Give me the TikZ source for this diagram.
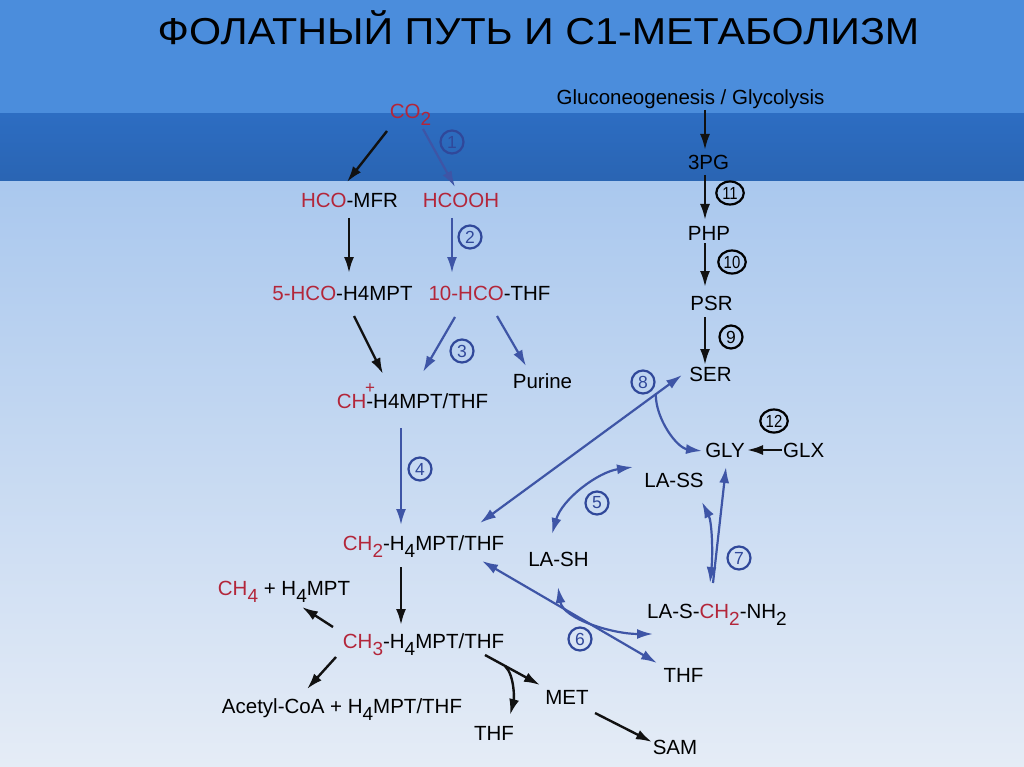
\documentclass[tikz,border=0pt]{standalone}
\usepackage{fontspec}
\setmainfont{Liberation Sans}
\usepackage{xcolor}
\usepackage{tikz}
\usetikzlibrary{arrows.meta,positioning,calc,shapes.geometric}
\definecolor{fpred}{HTML}{B3263A}
\definecolor{fpblue}{HTML}{3E55A6}
\definecolor{fpcirc}{HTML}{30489A}
\definecolor{fpink}{HTML}{111111}
\definecolor{bgtop}{HTML}{4B8DDC}
\definecolor{bgband}{HTML}{2D6DC2}
\definecolor{bglow}{HTML}{AAC8EE}
\definecolor{bgbot}{HTML}{E5ECF6}
\newcommand{\subs}[1]{\raisebox{-7pt}{\fontsize{19}{19}\selectfont #1}}
\newcommand{\rd}[1]{\textcolor{fpred}{#1}}
\tikzset{
  mol/.style={inner sep=0pt,text height=14.7pt,text depth=0pt,font=\fontsize{20.5}{24}\selectfont},
  num/.style={ellipse,draw=fpcirc,text=fpcirc,line width=2.2pt,inner sep=0pt,minimum width=23pt,minimum height=23pt,font=\fontsize{17.5}{17.5}\selectfont},
  numk/.style={num,draw=black,text=black},
  numw/.style={numk,minimum width=27.5pt},
  ar/.style={-{Latex[length=16pt,width=10pt]},draw=fpink,line width=2.4pt},
  arb/.style={ar,draw=fpblue,line width=2.2pt},
  arbb/.style={arb,{Latex[length=16pt,width=10pt]}-{Latex[length=16pt,width=10pt]}},
}

\begin{document}
\begin{tikzpicture}[x=1pt,y=-1pt]
  \useasboundingbox (0,0) rectangle (1024,767);
  \fill[bgtop] (0,0) rectangle (1024,114);
  \shade[top color=bgband,bottom color=bgband!92!black] (0,114) rectangle (1024,182);
  \shade[top color=bglow,bottom color=bgbot] (0,182) rectangle (1024,767);

  \node[inner sep=0pt,text height=27pt,text depth=0pt,font=\fontsize{37.5}{44}\selectfont] (title) at (538.5,31.5) {\scalebox{1.1}[1]{ФОЛАТНЫЙ ПУТЬ И С1-МЕТАБОЛИЗМ}};

  \node[mol] (co2) at (410.5,111) {\rd{CO\subs{2}}};
  \node[mol] (hcomfr) at (349.5,200) {\rd{HCO}-MFR};
  \node[mol] (hcooh) at (461,200) {\rd{HCOOH}};
  \node[mol] (fivehco) at (342.5,293) {\rd{5-HCO}-H4MPT};
  \node[mol] (tenhco) at (489.5,293) {\rd{10-HCO}-THF};
  \node[mol] (chplus) at (412.5,401) {\rd{CH\makebox[0pt][l]{\hspace{-1.2pt}\raisebox{14.5pt}{\fontsize{17}{17}\selectfont +}}}-H4MPT/THF};
  \node[mol] (purine) at (542.5,381) {Purine};
  \node[mol] (chtwo) at (423.5,543) {\rd{CH\subs{2}}-H\subs{4}MPT/THF};
  \node[mol] (chfour) at (284,588) {\rd{CH\subs{4}} + H\subs{4}MPT};
  \node[mol] (chthree) at (423.5,641) {\rd{CH\subs{3}}-H\subs{4}MPT/THF};
  \node[mol] (acetyl) at (342,706) {Acetyl-CoA + H\subs{4}MPT/THF};
  \node[mol] (thfb) at (494,733) {THF};
  \node[mol] (met) at (567,697) {MET};
  \node[mol] (sam) at (675,747) {SAM};

  \node[mol] (gluco) at (690.5,97) {Gluconeogenesis / Glycolysis};
  \node[mol] (tpg) at (708.5,162) {3PG};
  \node[mol] (php) at (709,233) {PHP};
  \node[mol] (psr) at (711.5,303) {PSR};
  \node[mol] (ser) at (710.5,374) {SER};
  \node[mol] (gly) at (725,450) {GLY};
  \node[mol,right=38pt of gly] (glx) {GLX};
  \node[mol] (lass) at (674,480) {LA-SS};
  \node[mol] (lash) at (558.5,559) {LA-SH};
  \node[mol] (lasch) at (717,611) {LA-S-\rd{CH\subs{2}}-NH\subs{2}};
  \node[mol] (thfr) at (683.5,675) {THF};

  \node[num] (c1) at (452,142) {1};
  \node[num] (c2) at (470,237) {2};
  \node[num] (c3) at (462,351) {3};
  \node[num] (c4) at (420,469) {4};
  \node[num] (c5) at (597,503) {5};
  \node[num] (c6) at (580,639) {6};
  \node[num] (c7) at (739,558) {7};
  \node[num] (c8) at (643,382) {8};
  \node[numk] (c9) at (731,337) {9};
  \node[numw] (c10) at (732,262) {\scalebox{0.85}[1]{10}};
  \node[numw] (c11) at (730,193) {\scalebox{0.85}[1]{11}};
  \node[numw] (c12) at (774,421) {\scalebox{0.85}[1]{12}};

  \draw[ar] ($(co2)+(-23.5,20)$) -- ($(hcomfr)+(-2.5,-18)$);
  \draw[arb] ($(co2)+(12.5,18)$) -- ($(hcooh)+(-6,-13)$);
  \draw[ar] ($(hcomfr)+(-0.5,18)$) -- ($(fivehco)+(6.5,-20)$);
  \draw[arb] ($(hcooh)+(-9,18)$) -- ($(tenhco)+(-37.5,-20)$);
  \draw[ar] ($(fivehco)+(11.5,23)$) -- ($(chplus)+(-29.5,-27)$);
  \draw[arb] ($(tenhco)+(-34.5,24)$) -- ($(chplus)+(10.5,-29)$);
  \draw[arb] ($(tenhco)+(7.5,23)$) -- ($(purine)+(-16.5,-15)$);
  \draw[arb] ($(chplus)+(-11.5,27)$) -- ($(chtwo)+(-22.5,-18)$);
  \draw[ar] ($(chtwo)+(-22.5,24)$) -- ($(chthree)+(-22.5,-16)$);
  \draw[ar] ($(chthree)+(-90.5,-14)$) -- ($(chfour)+(18,19)$);
  \draw[ar] ($(chthree)+(-87.5,16)$) -- ($(acetyl)+(-35,-17)$);
  \draw[ar] ($(chthree)+(61.5,14)$) -- ($(met)+(-27,-12)$);
  \draw[ar] ($(chthree)+(81.5,25)$) .. controls +(10,10) and +(4,-15) .. ($(thfb)+(16,-18)$);
  \draw[ar] ($(met)+(28,16)$) -- ($(sam)+(-23,-5)$);

  \draw[ar] ($(gluco)+(14.5,13)$) -- ($(tpg)+(-3.5,-12)$);
  \draw[ar] ($(tpg)+(-3.5,13)$) -- ($(php)+(-4,-13)$);
  \draw[ar] ($(php)+(-4,10)$) -- ($(psr)+(-6.5,-16)$);
  \draw[ar] ($(psr)+(-6.5,14)$) -- ($(ser)+(-5.5,-9)$);

  \coordinate (shA) at ($(chtwo)+(56.5,-20)$);
  \coordinate (shB) at ($(ser)+(-28.5,1)$);
  \draw[arbb] (shA) -- (shB);
  \draw[arb] ($(shA)!0.87!(shB)$) .. controls +(0,25) and +(-25,-3) .. ($(gly)+(-23,1)$);
  \draw[ar] ($(glx)+(-22,0)$) -- ($(gly)+(22,0)$);

  \draw[arbb] ($(lash)+(-6.5,-25)$) .. controls +(10,-35) and +(-35,5) .. ($(lass)+(-41,-13)$);
  \draw[arbb] ($(chtwo)+(58.5,18)$) -- ($(thfr)+(-26.5,-12)$);
  \draw[arbb] ($(lash)+(-0.5,28)$) .. controls +(5,32) and +(-40,0) .. ($(lasch)+(-64,23)$);
  \draw[arb] ($(lasch)+(-4,-28)$) -- ($(gly)+(1,17)$);
  \draw[arbb] ($(lass)+(28,22)$) .. controls +(10,20) and +(3,-30) .. ($(lasch)+(-7,-28)$);
\end{tikzpicture}
\end{document}
